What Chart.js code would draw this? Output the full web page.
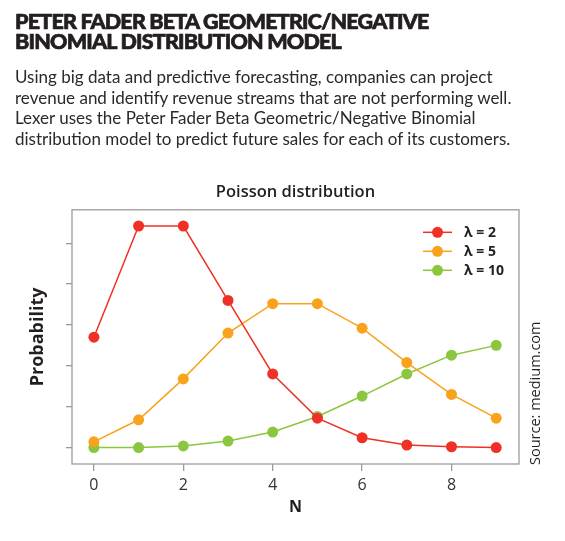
<!DOCTYPE html>
<html>
<head>
<meta charset="utf-8">
<script src="https://cdn.jsdelivr.net/npm/chart.js@4/dist/chart.umd.min.js"></script>
<style>
  html, body { margin: 0; padding: 0; background: #fff; }
  #wrap { position: relative; width: 565px; height: 541px; overflow: hidden; }
  #chart { position: absolute; left: 0; top: 0; }
  .head { position: absolute; left: 15px; color: #231f20; white-space: nowrap; }
  #h1 { top: 11px; font-family: Lato, sans-serif; font-weight: 900; font-size: 21.5px; line-height: 20px; letter-spacing: -0.8px; -webkit-text-stroke: 0.7px #231f20; }
  #body { top: 67px; font-family: Lato, sans-serif; font-size: 17px; line-height: 20.7px; color: #2a2a2a; }
</style>
</head>
<body>
<div id="wrap">
  <canvas id="chart" width="565" height="541"></canvas>
  <div class="head" id="h1">PETER FADER BETA GEOMETRIC/NEGATIVE<br>BINOMIAL DISTRIBUTION MODEL</div>
  <div class="head" id="body">Using big data and predictive forecasting, companies can project<br>revenue and identify revenue streams that are not performing well.<br>Lexer uses the Peter Fader Beta Geometric/Negative Binomial<br>distribution model to predict future sales for each of its customers.</div>
</div>
<script>
// values
const nValues = [0, 1, 2, 3, 4, 5, 6, 7, 8, 9];
const lambda2 = [0.135, 0.271, 0.271, 0.180, 0.090, 0.036, 0.012, 0.003, 0.001, 0.000];
const lambda5 = [0.007, 0.034, 0.084, 0.140, 0.176, 0.176, 0.146, 0.104, 0.065, 0.036];
const lambda10 = [0.000, 0.000, 0.002, 0.008, 0.019, 0.038, 0.063, 0.090, 0.113, 0.125];
const seriesNames = ['λ = 2', 'λ = 5', 'λ = 10'];
const seriesColors = ['#ee3124', '#f8a31b', '#8cc63f'];
const xTicks = [0, 2, 4, 6, 8];
const yTicks = [0, 0.05, 0.10, 0.15, 0.20, 0.25];

const GRAY = '#9b9b9b';
const INK = '#231f20';

function points(vals) {
  return nValues.map((n, i) => ({ x: n, y: vals[i] }));
}

function makeSet(label, vals, color) {
  return {
    label: label,
    data: points(vals),
    borderColor: color,
    backgroundColor: color,
    borderWidth: 1.5,
    pointRadius: 5.5,
    pointHoverRadius: 5.5,
    pointBorderWidth: 0,
    tension: 0
  };
}

// frame, legend and source note
const extras = {
  id: 'extras',
  beforeDatasetsDraw(chart) {
    const a = chart.chartArea;
    const ctx = chart.ctx;
    ctx.save();
    ctx.strokeStyle = GRAY;
    ctx.lineWidth = 1.3;
    ctx.strokeRect(a.left, a.top, a.right - a.left, a.bottom - a.top);
    ctx.restore();
  },
  afterDatasetsDraw(chart) {
    const a = chart.chartArea;
    const ctx = chart.ctx;
    ctx.save();
    chart.data.datasets.forEach((ds, i) => {
      const y = a.top + 22.5 + i * 19;
      ctx.strokeStyle = ds.borderColor;
      ctx.lineWidth = 1.5;
      ctx.beginPath();
      ctx.moveTo(a.right - 96, y);
      ctx.lineTo(a.right - 67, y);
      ctx.stroke();
      ctx.fillStyle = ds.borderColor;
      ctx.beginPath();
      ctx.arc(a.right - 81.5, y, 5.5, 0, Math.PI * 2);
      ctx.fill();
      ctx.fillStyle = INK;
      ctx.font = 'bold 14px "Open Sans", sans-serif';
      ctx.textBaseline = 'middle';
      ctx.textAlign = 'left';
      ctx.fillText(ds.label, a.right - 55, y + 0.5);
    });
    ctx.translate(a.right + 17, a.bottom + 1);
    ctx.rotate(-Math.PI / 2);
    ctx.font = '14.5px "Open Sans", sans-serif';
    ctx.fillStyle = INK;
    ctx.textAlign = 'left';
    ctx.textBaseline = 'middle';
    ctx.fillText('Source: medium.com', 0, 0);
    ctx.restore();
  }
};

new Chart(document.getElementById('chart'), {
  type: 'line',
  data: {
    datasets: [
      makeSet(seriesNames[0], lambda2, seriesColors[0]),
      makeSet(seriesNames[1], lambda5, seriesColors[1]),
      makeSet(seriesNames[2], lambda10, seriesColors[2])
    ]
  },
  options: {
    responsive: false,
    animation: false,
    layout: { padding: { left: 26, right: 0, top: 182, bottom: 24 } },
    plugins: {
      legend: { display: false },
      tooltip: { enabled: false },
      title: {
        display: true,
        text: 'Poisson distribution',
        color: INK,
        font: { family: '"Open Sans", sans-serif', size: 16.5, weight: '600' },
        padding: { top: 0, bottom: 8 }
      }
    },
    scales: {
      x: {
        type: 'linear',
        min: -0.49,
        max: 9.51,
        afterBuildTicks: s => { s.ticks = xTicks.map(v => ({ value: v })); },
        afterFit: s => { s.height = 53; },
        border: { display: false },
        grid: { drawOnChartArea: false, drawTicks: true, tickLength: 7, tickColor: GRAY, lineWidth: 1.3 },
        ticks: {
          color: '#333',
          padding: 5,
          font: { family: '"Open Sans", sans-serif', size: 16 },
          callback: v => String(v)
        },
        title: {
          display: true,
          text: 'N',
          color: INK,
          padding: 0,
          font: { family: '"Open Sans", sans-serif', size: 16, weight: 'bold' }
        }
      },
      y: {
        min: -0.0201,
        max: 0.2908,
        afterBuildTicks: s => { s.ticks = yTicks.map(v => ({ value: v })); },
        afterFit: s => { s.width = 46; },
        border: { display: false },
        grid: { drawOnChartArea: false, drawTicks: true, tickLength: 6, tickColor: GRAY, lineWidth: 1.3 },
        ticks: { display: false },
        title: {
          display: true,
          text: 'Probability',
          color: INK,
          padding: { top: 1, bottom: 0 },
          font: { family: '"Open Sans", sans-serif', size: 18, weight: 'bold' }
        }
      },
      y2: {
        position: 'right',
        display: true,
        afterFit: s => { s.width = 46; },
        border: { display: false },
        grid: { display: false },
        ticks: { display: false }
      }
    }
  },
  plugins: [extras]
});
</script>
</body>
</html>
